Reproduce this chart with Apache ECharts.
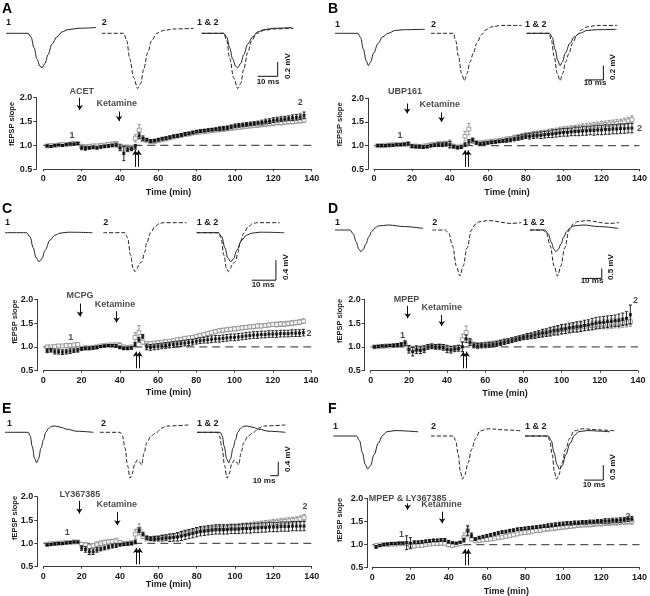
<!DOCTYPE html>
<html><head><meta charset="utf-8">
<script src="https://cdn.jsdelivr.net/npm/echarts@6/dist/echarts.min.js"></script>
<style>html,body{margin:0;padding:0;background:#fff}#c{width:650px;height:596px}</style>
</head><body><div id="c"></div>
<script>
// ---------- data ----------
const timesMin = [2,4,6,8,10,12,14,16,18,20,22,24,26,28,30,32,34,36,38,40,42,44,46,48,50,52,54,56,58,60,62,64,66,68,70,72,74,76,78,80,82,84,86,88,90,92,94,96,98,100,102,104,106,108,110,112,114,116,118,120,122,124,126,128,130,132,134,136];
const timeRange = [0, 140];
const baselineLevel = 1.0;

const aBlack = [0.99,0.98,1.0,1.01,1.0,1.02,1.03,1.03,1.04, 0.95,0.94,0.95,0.96,0.95, 0.97,0.98,0.99,1.0,1.01, 0.95,0.83,0.92,0.93, 0.97,1.2,1.15,1.12,1.09,1.1,1.12, 1.14,1.15,1.17,1.19,1.2,1.22,1.24,1.25,1.27,1.29, 1.3,1.31,1.32,1.33,1.34,1.35,1.36,1.37,1.39,1.41, 1.42,1.43,1.44,1.45,1.46,1.47,1.48,1.5,1.51,1.53, 1.54,1.55,1.56,1.57,1.58,1.59,1.6,1.63];
const aBlackErr = [0.02,0.02,0.01,0.01,0.02,0.01,0.02,0.02,0.02, 0.04,0.04,0.03,0.03,0.03, 0.03,0.03,0.03,0.03,0.04, 0.06,0.15,0.05,0.04, 0.05,0.06,0.05,0.03,0.03,0.03,0.03, 0.03,0.03,0.03,0.03,0.03,0.03,0.03,0.03,0.03,0.03, 0.03,0.03,0.03,0.03,0.03,0.04,0.04,0.04,0.04,0.04, 0.04,0.04,0.04,0.04,0.04,0.04,0.05,0.05,0.05,0.05, 0.05,0.05,0.05,0.05,0.06,0.06,0.06,0.07];
const aGray = [0.99,1.0,1.0,1.01,1.02,1.02,1.03,1.04,1.04, 0.98,0.97,0.98,0.99,0.99, 1.0,1.01,1.02,1.03,1.04, 0.98,0.92,0.95,0.96, 1.15,1.32,1.12,1.1,1.08,1.08,1.1, 1.12,1.14,1.16,1.18,1.2,1.21,1.23,1.24,1.26,1.27, 1.28,1.29,1.3,1.31,1.32,1.33,1.34,1.35,1.36,1.37, 1.38,1.39,1.4,1.41,1.42,1.43,1.44,1.45,1.46,1.47, 1.48,1.48,1.49,1.5,1.5,1.51,1.52,1.53];
const aGrayErr = [0.02,0.02,0.02,0.02,0.02,0.02,0.02,0.02,0.02, 0.03,0.03,0.03,0.03,0.03, 0.03,0.03,0.03,0.04,0.04, 0.05,0.08,0.05,0.04, 0.08,0.12,0.04,0.03,0.03,0.03,0.03, 0.03,0.03,0.03,0.03,0.03,0.03,0.03,0.03,0.03,0.03, 0.03,0.03,0.03,0.03,0.03,0.04,0.04,0.04,0.04,0.04, 0.04,0.04,0.04,0.04,0.04,0.05,0.05,0.05,0.05,0.05, 0.05,0.05,0.05,0.05,0.05,0.05,0.05,0.05];

const bBlack = [1.0,1.0,1.0,1.01,1.01,1.02,1.02,1.03,1.04, 0.99,0.98,0.98,0.97,0.98, 1.0,1.01,1.02,1.02,1.03, 1.02,0.98,0.96,0.97, 1.02,1.08,1.12,1.06,1.04,1.05,1.06, 1.07,1.08,1.09,1.1,1.11,1.12,1.14,1.16,1.18,1.2, 1.2,1.21,1.22,1.22,1.23,1.24,1.25,1.26,1.27,1.28, 1.28,1.29,1.3,1.3,1.31,1.31,1.32,1.32,1.33,1.33, 1.34,1.34,1.35,1.35,1.36,1.36,1.37,1.37];
const bBlackErr = [0.02,0.02,0.02,0.02,0.02,0.02,0.02,0.02,0.03, 0.03,0.03,0.03,0.03,0.03, 0.03,0.03,0.04,0.04,0.04, 0.07,0.03,0.03,0.03, 0.04,0.05,0.04,0.03,0.03,0.03,0.03, 0.03,0.03,0.03,0.03,0.04,0.04,0.04,0.05,0.05,0.05, 0.06,0.06,0.06,0.07,0.07,0.07,0.08,0.08,0.08,0.08, 0.08,0.08,0.09,0.09,0.09,0.09,0.09,0.1,0.1,0.1, 0.1,0.1,0.1,0.1,0.1,0.1,0.1,0.1];
const bGray = [1.0,1.0,1.01,1.01,1.02,1.02,1.03,1.03,1.04, 0.99,0.99,0.98,0.99,1.0, 1.02,1.03,1.04,1.04,1.05, 1.04,0.99,0.97,0.99, 1.2,1.35,1.1,1.06,1.06,1.07,1.08, 1.09,1.1,1.11,1.12,1.14,1.15,1.17,1.18,1.2,1.22, 1.23,1.24,1.25,1.26,1.27,1.28,1.29,1.3,1.32,1.33, 1.34,1.35,1.36,1.37,1.38,1.39,1.4,1.41,1.42,1.43, 1.44,1.45,1.46,1.47,1.48,1.5,1.52,1.55];
const bGrayErr = [0.02,0.02,0.02,0.02,0.02,0.02,0.02,0.02,0.03, 0.03,0.03,0.03,0.03,0.03, 0.03,0.03,0.03,0.04,0.04, 0.08,0.03,0.03,0.03, 0.1,0.12,0.05,0.03,0.03,0.03,0.03, 0.03,0.03,0.03,0.04,0.04,0.04,0.05,0.05,0.05,0.05, 0.05,0.06,0.06,0.06,0.06,0.07,0.07,0.07,0.07,0.07, 0.07,0.07,0.07,0.07,0.08,0.08,0.08,0.08,0.08,0.08, 0.08,0.08,0.08,0.08,0.08,0.08,0.08,0.08];

const cBlack = [0.92,0.93,0.9,0.9,0.89,0.9,0.91,0.92,0.93, 0.96,0.97,0.97,0.98,0.99, 1.01,1.02,1.03,1.03,1.02, 0.99,0.97,0.97,0.98, 1.05,1.15,1.22,1.0,0.99,1.0,1.01, 1.02,1.03,1.04,1.05,1.06,1.07,1.08,1.09,1.1,1.12, 1.13,1.14,1.15,1.16,1.17,1.17,1.18,1.19,1.2,1.2, 1.21,1.22,1.23,1.24,1.25,1.25,1.26,1.26,1.27,1.27, 1.27,1.28,1.28,1.28,1.29,1.29,1.29,1.3];
const cBlackErr = [0.04,0.04,0.05,0.05,0.05,0.05,0.05,0.04,0.04, 0.03,0.03,0.03,0.03,0.03, 0.02,0.02,0.02,0.02,0.03, 0.03,0.03,0.03,0.03, 0.04,0.05,0.04,0.06,0.06,0.06,0.06, 0.06,0.06,0.06,0.06,0.06,0.06,0.06,0.06,0.06,0.06, 0.06,0.06,0.07,0.07,0.07,0.07,0.07,0.07,0.07,0.07, 0.07,0.07,0.07,0.07,0.07,0.07,0.07,0.07,0.07,0.07, 0.07,0.07,0.07,0.07,0.07,0.07,0.07,0.07];
const cGray = [1.0,1.0,1.01,1.02,1.02,1.03,1.03,1.04,1.05, 0.97,0.98,0.98,0.99,1.0, 1.02,1.03,1.04,1.04,1.04, 1.03,1.0,0.99,1.0, 1.2,1.3,1.1,1.07,1.07,1.08,1.09, 1.1,1.11,1.12,1.13,1.15,1.16,1.18,1.19,1.2,1.22, 1.24,1.26,1.28,1.3,1.32,1.34,1.35,1.36,1.37,1.38, 1.39,1.4,1.41,1.42,1.43,1.44,1.44,1.45,1.46,1.47, 1.47,1.48,1.48,1.49,1.5,1.51,1.52,1.54];
const cGrayErr = [0.03,0.03,0.03,0.03,0.03,0.03,0.03,0.03,0.03, 0.02,0.02,0.02,0.02,0.02, 0.02,0.02,0.03,0.03,0.04, 0.06,0.03,0.03,0.03, 0.1,0.15,0.04,0.03,0.03,0.03,0.03, 0.03,0.03,0.03,0.03,0.03,0.03,0.03,0.03,0.03,0.03, 0.04,0.04,0.04,0.04,0.04,0.04,0.04,0.04,0.04,0.04, 0.04,0.04,0.04,0.04,0.04,0.04,0.04,0.04,0.04,0.04, 0.05,0.05,0.05,0.05,0.05,0.05,0.05,0.05];

const dBlack = [1.0,1.01,1.02,1.02,1.03,1.03,1.04,1.05,1.08, 0.95,0.9,0.94,0.93,0.95, 1.0,1.01,1.0,1.0,0.99, 0.95,0.94,0.96,0.97, 1.0,1.17,1.1,1.03,1.02,1.03,1.03, 1.04,1.05,1.06,1.08,1.1,1.12,1.14,1.16,1.18,1.2, 1.22,1.23,1.25,1.27,1.29,1.3,1.32,1.34,1.35,1.37, 1.38,1.4,1.41,1.42,1.43,1.45,1.46,1.48,1.5,1.51, 1.52,1.53,1.54,1.55,1.56,1.58,1.6,1.68];
const dBlackErr = [0.02,0.02,0.02,0.02,0.02,0.03,0.03,0.04,0.05, 0.08,0.09,0.08,0.07,0.07, 0.05,0.05,0.05,0.05,0.06, 0.07,0.07,0.06,0.06, 0.1,0.08,0.07,0.05,0.05,0.05,0.05, 0.05,0.05,0.05,0.05,0.05,0.05,0.05,0.05,0.05,0.05, 0.06,0.06,0.07,0.07,0.08,0.08,0.09,0.09,0.1,0.1, 0.1,0.1,0.1,0.11,0.11,0.11,0.11,0.12,0.12,0.12, 0.12,0.12,0.12,0.12,0.13,0.13,0.14,0.2];
const dGray = [1.0,1.01,1.01,1.02,1.02,1.03,1.03,1.04,1.06, 0.97,0.95,0.96,0.96,0.97, 1.01,1.02,1.01,1.02,1.0, 0.98,0.96,0.97,0.99, 1.15,1.3,1.12,1.05,1.04,1.04,1.05, 1.06,1.07,1.08,1.1,1.12,1.13,1.15,1.17,1.19,1.21, 1.22,1.24,1.25,1.26,1.28,1.3,1.31,1.33,1.35,1.36, 1.37,1.38,1.4,1.41,1.42,1.43,1.44,1.45,1.46,1.47, 1.48,1.48,1.49,1.5,1.5,1.51,1.52,1.53];
const dGrayErr = [0.02,0.02,0.02,0.02,0.02,0.03,0.03,0.03,0.04, 0.06,0.06,0.06,0.06,0.06, 0.04,0.04,0.04,0.04,0.05, 0.06,0.06,0.05,0.05, 0.12,0.14,0.06,0.05,0.05,0.05,0.05, 0.05,0.05,0.05,0.05,0.05,0.05,0.05,0.05,0.05,0.05, 0.06,0.06,0.06,0.07,0.07,0.07,0.08,0.08,0.08,0.08, 0.09,0.09,0.09,0.09,0.09,0.09,0.09,0.09,0.09,0.09, 0.1,0.1,0.1,0.1,0.1,0.1,0.1,0.1];

const eBlack = [0.97,0.98,0.99,1.0,1.0,1.01,1.02,1.03,1.03, 0.9,0.87,0.82,0.82,0.86, 0.88,0.9,0.92,0.94,0.95, 0.97,0.98,0.99,1.0, 1.03,1.28,1.2,1.12,1.1,1.1,1.1, 1.11,1.12,1.12,1.13,1.14,1.16,1.18,1.2,1.22,1.24, 1.26,1.27,1.28,1.29,1.3,1.3,1.3,1.3,1.31,1.31, 1.31,1.32,1.32,1.32,1.33,1.33,1.34,1.34,1.35,1.35, 1.35,1.36,1.36,1.36,1.37,1.37,1.37,1.37];
const eBlackErr = [0.02,0.02,0.02,0.02,0.02,0.02,0.02,0.02,0.02, 0.05,0.06,0.06,0.06,0.05, 0.04,0.04,0.04,0.04,0.04, 0.03,0.03,0.03,0.03, 0.04,0.05,0.04,0.04,0.04,0.05,0.05, 0.06,0.06,0.08,0.08,0.09,0.1,0.1,0.1,0.1,0.1, 0.1,0.1,0.1,0.1,0.1,0.1,0.1,0.1,0.1,0.1, 0.1,0.1,0.1,0.1,0.1,0.1,0.1,0.1,0.1,0.1, 0.1,0.1,0.1,0.1,0.1,0.1,0.1,0.1];
const eGray = [0.98,0.99,1.0,1.0,1.01,1.02,1.02,1.03,1.03, 0.98,0.97,0.93,0.95,0.98, 1.0,1.02,1.03,1.04,1.05, 1.02,1.0,1.0,1.01, 1.2,1.3,1.15,1.1,1.1,1.11,1.12, 1.13,1.14,1.15,1.16,1.17,1.19,1.21,1.23,1.25,1.27, 1.28,1.29,1.3,1.31,1.32,1.32,1.32,1.33,1.34,1.34, 1.35,1.36,1.37,1.38,1.39,1.4,1.41,1.42,1.43,1.44, 1.45,1.46,1.47,1.48,1.49,1.5,1.52,1.55];
const eGrayErr = [0.02,0.02,0.02,0.02,0.02,0.02,0.02,0.02,0.02, 0.04,0.05,0.05,0.05,0.05, 0.05,0.05,0.05,0.05,0.06, 0.04,0.04,0.04,0.04, 0.1,0.12,0.05,0.04,0.04,0.04,0.04, 0.05,0.05,0.05,0.05,0.06,0.06,0.06,0.06,0.06,0.06, 0.06,0.06,0.06,0.06,0.06,0.06,0.06,0.06,0.06,0.06, 0.07,0.07,0.07,0.07,0.07,0.07,0.07,0.07,0.07,0.07, 0.07,0.07,0.07,0.07,0.07,0.07,0.07,0.07];

const fBlack = [0.95,0.98,1.0,1.01,1.02,1.02,1.03,1.03,1.04, 1.03,1.05,1.05,1.06,1.07, 1.08,1.09,1.09,1.1,1.1, 1.06,1.04,1.03,1.05, 1.1,1.3,1.2,1.12,1.15,1.17,1.19, 1.21,1.23,1.25,1.27,1.28,1.3,1.31,1.33,1.34,1.35, 1.36,1.37,1.38,1.39,1.4,1.41,1.42,1.43,1.44,1.45, 1.46,1.46,1.47,1.47,1.48,1.48,1.49,1.49,1.5,1.5, 1.51,1.51,1.52,1.52,1.53,1.54,1.55,1.56];
const fBlackErr = [0.03,0.02,0.02,0.02,0.02,0.02,0.02,0.02,0.15, 0.12,0.03,0.03,0.03,0.03, 0.03,0.03,0.03,0.03,0.03, 0.03,0.02,0.02,0.02, 0.04,0.1,0.05,0.03,0.03,0.03,0.03, 0.03,0.03,0.03,0.03,0.03,0.03,0.03,0.03,0.03,0.03, 0.03,0.03,0.03,0.03,0.03,0.04,0.04,0.04,0.04,0.04, 0.04,0.04,0.04,0.04,0.04,0.04,0.04,0.04,0.04,0.04, 0.05,0.05,0.05,0.05,0.05,0.05,0.05,0.05];
const fGray = [0.98,0.99,1.0,1.0,1.01,1.01,1.02,1.02,1.02, 0.99,0.97,0.98,0.98,1.0, 1.01,1.02,1.02,1.03,1.02, 1.0,0.98,1.0,1.02, 1.15,1.3,1.12,1.08,1.09,1.1,1.11, 1.12,1.13,1.15,1.16,1.18,1.19,1.21,1.23,1.25,1.26, 1.27,1.29,1.3,1.31,1.33,1.34,1.35,1.36,1.37,1.38, 1.39,1.4,1.41,1.42,1.43,1.44,1.44,1.45,1.46,1.46, 1.47,1.47,1.48,1.48,1.49,1.49,1.5,1.5];
const fGrayErr = [0.02,0.02,0.02,0.02,0.02,0.02,0.02,0.02,0.04, 0.05,0.04,0.03,0.03,0.03, 0.03,0.03,0.03,0.03,0.03, 0.05,0.03,0.03,0.03, 0.1,0.12,0.04,0.03,0.03,0.03,0.03, 0.03,0.03,0.03,0.03,0.03,0.03,0.03,0.03,0.03,0.03, 0.04,0.04,0.04,0.04,0.05,0.05,0.05,0.05,0.05,0.05, 0.05,0.05,0.05,0.05,0.05,0.06,0.06,0.06,0.06,0.06, 0.06,0.06,0.06,0.06,0.06,0.06,0.06,0.06];

// sample traces: [ms, mV]
const aTrace1 = [[0,0],[11,0],[12.5,-0.05],[14,-0.2],[15.5,-0.36],[17,-0.46],[18,-0.48],[19.5,-0.42],[21,-0.3],[23,-0.15],[25.5,-0.05],[28,0.02],[31,0.05],[36,0.07],[45,0.08]];
const aTrace2 = [[0,0],[11,0],[12.5,-0.1],[14,-0.35],[16,-0.62],[18,-0.77],[19.5,-0.7],[21,-0.5],[23,-0.27],[25,-0.1],[27.5,0],[31,0.04],[36,0.06],[46,0.07]];
const bTrace1 = [[0,0],[12.5,0],[14,-0.06],[15.5,-0.22],[17,-0.38],[18.2,-0.45],[19.5,-0.4],[21,-0.28],[23.6,-0.14],[26,-0.05],[29,0],[33,0.04],[38,0.05],[49,0.056]];
const bTrace2 = [[0,0],[12.2,0],[13.5,-0.1],[15,-0.32],[16.7,-0.56],[18.2,-0.66],[19.7,-0.56],[21.3,-0.4],[23.1,-0.28],[25,-0.14],[27.6,-0.02],[30,0.05],[33,0.09],[38.5,0.11],[49.5,0.11]];
const cTrace1 = [[0,0],[8.9,0],[10.3,-0.08],[11.6,-0.3],[12.8,-0.5],[14,-0.58],[15.2,-0.52],[16.5,-0.35],[18.5,-0.15],[20.5,-0.05],[22.6,-0.01],[26,0.01],[36,0]];
const cTrace2 = [[0,0],[8.9,0],[10,-0.1],[11.2,-0.45],[12.3,-0.72],[13,-0.78],[13.8,-0.72],[14.8,-0.62],[15.9,-0.58],[17,-0.4],[17.8,-0.21],[19.5,0],[21.2,0.12],[23,0.18],[24.7,0.2],[34.2,0.2]];
const dTrace1 = [[0,0],[7.8,0],[9.5,-0.2],[11,-0.6],[12.3,-0.95],[13.4,-1.08],[14.6,-0.98],[16,-0.7],[17.5,-0.35],[19,-0.08],[20.7,0.1],[22.4,0.2],[27.6,0.25],[36,0.17],[45.7,0.08]];
const dTrace2 = [[0,0],[6.6,0],[8.5,-0.15],[10.5,-0.8],[12.5,-1.8],[14.3,-2.3],[16,-1.8],[18,-0.9],[20.3,0],[22.5,0.3],[24.7,0.42],[29,0.47],[41,0.33],[46.2,0.37]];
const eTrace1 = [[0,0],[29,0],[31.5,-0.1],[34,-0.4],[37,-0.75],[39.6,-0.87],[42,-0.75],[45,-0.45],[48,-0.22],[51,0],[54.2,0.11],[58,0.17],[62.5,0.18],[70,0.14],[77,0.09],[90,0.03],[110.5,0]];
const eTrace2 = [[0,0],[25,0],[28,-0.1],[31.3,-0.45],[34.5,-0.95],[37.5,-1.31],[40,-1.2],[43.5,-0.9],[46.7,-0.79],[49.5,-0.85],[52.1,-0.93],[55,-0.6],[58.4,-0.3],[64,-0.1],[70.8,0],[77,0.12],[83.3,0.18],[110.5,0.21]];
const fTrace1 = [[0,0],[12.3,0],[13.8,-0.15],[15.3,-0.55],[16.8,-0.95],[18.1,-1.1],[19.5,-1.0],[21.5,-0.62],[23.7,-0.24],[26,0.02],[28.1,0.14],[32.5,0.18],[44.7,0.14]];
const fTrace2 = [[0,0],[11.8,0],[13,-0.15],[14.3,-0.6],[15.5,-1.2],[16.5,-1.44],[17.8,-1.3],[19.5,-0.9],[21.4,-0.44],[23.5,-0.08],[25.8,0.17],[30.2,0.24],[40,0.2],[47.7,0.17]];

const scaleBarMs = 10;

// ---------- panel layout ----------
const panels = [
 {letter:'A', lx:2, ly:2, plot:[43.3,97.7,268.4,71.6], yOff:7,
  black:aBlack, blackErr:aBlackErr, gray:aGray, grayErr:aGrayErr,
  drug:'ACET', drugLab:[20,2.14], drugArr:[19,2.0,1.74], ketLab:[38.3,1.88], ketArr:[39.5,1.71,1.51], up:[48,49.7],
  lab1:[15,1.2], lab2:[134,1.9], yName:[12,124], tName:[168.5,193],
  tr1:aTrace1, tr2:aTrace2, trX:[6,101.7,201.7], baseY:33.3, pxMs:2.0, pxMv:71.7, span:60,
  barMv:0.2, barEnd:[38,-0.6], msTxt:[268,82], mvTxt:[288,66], labY:23, labX:[6,101.7,197]},
 {letter:'B', lx:328, ly:2, plot:[374,98.3,266,71], yOff:6,
  black:bBlack, blackErr:bBlackErr, gray:bGray, grayErr:bGrayErr,
  drug:'UBP161', drugLab:[16.3,2.14], drugArr:[17.5,1.89,1.68], ketLab:[34.7,1.87], ketArr:[35.6,1.7,1.5], up:[48,49.7],
  lab1:[13.7,1.22], lab2:[140,1.36], yName:[340,124.5], tName:[507,193],
  tr1:bTrace1, tr2:bTrace2, trX:[335,431,526.7], baseY:33.3, pxMs:1.83, pxMv:71.7, span:60,
  barMv:0.2, barEnd:[41.9,-0.65], msTxt:[595,83], mvTxt:[613,67], labY:25, labX:[335,431,525]},
 {letter:'C', lx:2, ly:202, plot:[43.3,299.3,267.7,71.4], yOff:6,
  black:cBlack, blackErr:cBlackErr, gray:cGray, grayErr:cGrayErr,
  drug:'MCPG', drugLab:[19.2,2.07], drugArr:[19.2,1.91,1.64], ketLab:[37.5,1.88], ketArr:[38.3,1.75,1.51], up:[48.5,50.3],
  lab1:[14.3,1.19], lab2:[139,1.28], yName:[15,321.7], tName:[168.5,393],
  tr1:cTrace1, tr2:cTrace2, trX:[5,103.3,196.7], baseY:232.7, pxMs:2.43, pxMv:50, span:50,
  barMv:0.4, barEnd:[32.6,-0.95], msTxt:[263,285], mvTxt:[286,267], labY:223, labX:[5,103.3,196.7]},
 {letter:'D', lx:328, ly:202, plot:[370.7,299.3,267.3,71.4], yOff:6,
  black:dBlack, blackErr:dBlackErr, gray:dGray, grayErr:dGrayErr,
  drug:'MPEP', drugLab:[18.8,2.0], drugArr:[19.4,1.86,1.6], ketLab:[37.2,1.83], ketArr:[37.2,1.67,1.44], up:[48.5,50.3],
  lab1:[16.6,1.23], lab2:[138.7,1.98], yName:[340,321], tName:[505,393.3],
  tr1:dTrace1, tr2:dTrace2, trX:[335,432.3,530], baseY:230, pxMs:1.93, pxMv:20, span:60,
  barMv:0.5, barEnd:[37.2,-2.42], msTxt:[592,281], mvTxt:[611,267], labY:223, labX:[335,432.3,523]},
 {letter:'E', lx:2, ly:402, plot:[43.3,496.7,268.4,70], yOff:6,
  black:eBlack, blackErr:eBlackErr, gray:eGray, grayErr:eGrayErr,
  drug:'LY367385', drugLab:[19.1,2.05], drugArr:[18.8,1.91,1.64], ketLab:[38.3,1.84], ketArr:[38.6,1.67,1.39], up:[48.5,50.3],
  lab1:[12.5,1.24], lab2:[136.5,1.8], yName:[15,518], tName:[168.5,585],
  tr1:eTrace1, tr2:eTrace2, trX:[5,100,197], baseY:432.3, pxMs:0.8, pxMv:35, span:120,
  barMv:0.4, barEnd:[101.6,-1.24], msTxt:[264,481], mvTxt:[288,459], labY:424, labX:[7,101,197]},
 {letter:'F', lx:328, ly:402, plot:[372.3,498.3,267.7,69.4], yOff:5,
  black:fBlack, blackErr:fBlackErr, gray:fGray, grayErr:fGrayErr,
  drug:'MPEP & LY367385', drugLab:[18.5,2.0], drugArr:[18.5,1.89,1.75], ketLab:[36.2,1.87], ketArr:[36.6,1.71,1.46], up:[48.5,50.3],
  lab1:[15.3,1.21], lab2:[134,1.6], yName:[340,520], tName:[506.3,591.7],
  tr1:fTrace1, tr2:fTrace2, trX:[333.3,431,525], baseY:436, pxMs:1.9, pxMv:30, span:60,
  barMv:0.5, barEnd:[41.2,-1.47], msTxt:[594,485], mvTxt:[613,467], labY:427, labX:[333,431,525]}
];

// ---------- build ----------
const F = '"Liberation Sans", Arial, sans-serif';
const TXT = '#1a1a1a', AX = '#3a3a3a', GRAY = '#8c8c8c';
const grids = [], xAxes = [], yAxes = [], series = [], graphics = [];
function addGrid(g, xa, ya) {
  grids.push(g);
  const i = grids.length - 1;
  xAxes.push(Object.assign({gridIndex: i}, xa));
  yAxes.push(Object.assign({gridIndex: i}, ya));
  return i;
}
function gText(text, x, y, size, opts) {
  graphics.push(Object.assign({type: 'text', x: x, y: y, silent: true,
    style: {text: text, fontFamily: F, fontWeight: 'bold', fontSize: size, fill: TXT,
      align: 'center', verticalAlign: 'middle', textAlign: 'center', textVerticalAlign: 'middle'}}, opts || {}));
}
function errSeries(gi, means, errs, color, z) {
  return {type: 'custom', xAxisIndex: gi, yAxisIndex: gi, z: z, silent: true, clip: false,
    data: timesMin.map((t, i) => [t, means[i], errs[i]]),
    encode: {x: 0, y: 1},
    renderItem: function (params, api) {
      const x = api.value(0), y = api.value(1), e = api.value(2);
      const a = api.coord([x, y + e]), b = api.coord([x, y - e]);
      const w = 1.6, st = {stroke: color, lineWidth: 0.9};
      return {type: 'group', children: [
        {type: 'line', shape: {x1: a[0], y1: a[1], x2: b[0], y2: b[1]}, style: st},
        {type: 'line', shape: {x1: a[0] - w, y1: a[1], x2: a[0] + w, y2: a[1]}, style: st},
        {type: 'line', shape: {x1: b[0] - w, y1: b[1], x2: b[0] + w, y2: b[1]}, style: st}
      ]};
    }};
}

panels.forEach(P => {
  gText(P.letter, P.lx, P.ly, 14, {style: {text: P.letter, fontFamily: F, fontWeight: 'bold', fontSize: 14, fill: '#000', align: 'left', verticalAlign: 'top', textAlign: 'left', textVerticalAlign: 'top'}});

  // time-course plot
  const gi = addGrid({left: P.plot[0], top: P.plot[1], width: P.plot[2], height: P.plot[3]},
    {type: 'value', min: timeRange[0], max: timeRange[1], interval: 20,
     axisLine: {show: true, onZero: false, lineStyle: {color: AX, width: 1}},
     axisTick: {show: true, length: 2, lineStyle: {color: AX}},
     axisLabel: {fontSize: 9, fontWeight: 'bold', color: TXT, margin: 5, fontFamily: F},
     splitLine: {show: false}},
    {type: 'value', min: 0.5, max: 2.0, interval: 0.5, offset: P.yOff,
     axisLine: {show: true, onZero: false, lineStyle: {color: AX, width: 1}},
     axisTick: {show: true, length: 3, lineStyle: {color: AX}},
     axisLabel: {fontSize: 9, fontWeight: 'bold', color: TXT, margin: 4, fontFamily: F, formatter: v => v.toFixed(1)},
     splitLine: {show: false}});

  series.push({type: 'line', xAxisIndex: gi, yAxisIndex: gi, z: 1, silent: true, symbol: 'none',
    data: [[timeRange[0], baselineLevel], [timeRange[1], baselineLevel]],
    lineStyle: {color: '#555', width: 1.2, type: [8, 5]}});
  series.push(errSeries(gi, P.gray, P.grayErr, GRAY, 2));
  series.push({type: 'scatter', xAxisIndex: gi, yAxisIndex: gi, z: 3, silent: true,
    data: timesMin.map((t, i) => [t, P.gray[i]]), symbol: 'rect', symbolSize: 4,
    itemStyle: {color: '#fff', borderColor: GRAY, borderWidth: 1}});
  series.push(errSeries(gi, P.black, P.blackErr, '#111', 4));
  series.push({type: 'scatter', xAxisIndex: gi, yAxisIndex: gi, z: 5, silent: true,
    data: timesMin.map((t, i) => [t, P.black[i]]), symbol: 'rect', symbolSize: 3,
    itemStyle: {color: '#000'}});
  // arrows
  series.push({type: 'lines', coordinateSystem: 'cartesian2d', xAxisIndex: gi, yAxisIndex: gi, z: 6, silent: true,
    symbol: ['none', 'arrow'], symbolSize: 5,
    lineStyle: {color: '#111', width: 1, opacity: 1},
    data: [
      {coords: [[P.drugArr[0], P.drugArr[1]], [P.drugArr[0], P.drugArr[2]]]},
      {coords: [[P.ketArr[0], P.ketArr[1]], [P.ketArr[0], P.ketArr[2]]]},
      {coords: [[P.up[0], 0.55], [P.up[0], 0.9]]},
      {coords: [[P.up[1], 0.55], [P.up[1], 0.9]]}
    ]});
  // text annotations in data space
  series.push({type: 'scatter', xAxisIndex: gi, yAxisIndex: gi, z: 7, silent: true, clip: false,
    symbolSize: 1, itemStyle: {color: 'rgba(0,0,0,0)'},
    label: {show: true, position: 'inside', formatter: '{b}', fontFamily: F, fontWeight: 'bold', fontSize: 9, color: TXT},
    data: [
      {name: P.drug, value: P.drugLab},
      {name: 'Ketamine', value: P.ketLab},
      {name: '1', value: P.lab1},
      {name: '2', value: P.lab2}
    ]});

  gText('fEPSP slope', P.yName[0], P.yName[1], 7.5, {rotation: Math.PI / 2});
  gText('Time (min)', P.tName[0], P.tName[1], 9);

  // traces
  const mk = (px) => addGrid({left: px, top: P.baseY - 0.4 * P.pxMv, width: P.span * P.pxMs, height: 3.0 * P.pxMv},
    {type: 'value', min: 0, max: P.span, show: false, splitLine: {show: false}},
    {type: 'value', min: -2.6, max: 0.4, show: false, splitLine: {show: false}});
  const solid = (g, d) => ({type: 'line', xAxisIndex: g, yAxisIndex: g, data: d, symbol: 'none', clip: false, silent: true,
    smooth: 0.35, smoothMonotone: 'x', lineStyle: {color: '#222', width: 1}});
  const dashed = (g, d) => ({type: 'line', xAxisIndex: g, yAxisIndex: g, data: d, symbol: 'none', clip: false, silent: true,
    smooth: 0.35, smoothMonotone: 'x', lineStyle: {color: '#222', width: 1, type: [4, 2]}});
  const g1 = mk(P.trX[0]), g2 = mk(P.trX[1]), g3 = mk(P.trX[2]);
  series.push(solid(g1, P.tr1));
  series.push(dashed(g2, P.tr2));
  series.push(solid(g3, P.tr1));
  series.push(dashed(g3, P.tr2));
  // scale bar through overlay axes
  const ex = P.barEnd[0], ey = P.barEnd[1];
  series.push({type: 'line', xAxisIndex: g3, yAxisIndex: g3, symbol: 'none', clip: false, silent: true,
    data: [[ex - scaleBarMs, ey], [ex, ey], [ex, ey + P.barMv]], lineStyle: {color: '#111', width: 1}});
  gText('10 ms', P.msTxt[0], P.msTxt[1], 8);
  gText(P.barMv.toFixed(1) + ' mV', P.mvTxt[0], P.mvTxt[1], 8, {rotation: Math.PI / 2});

  // trace labels
  const lab = (t, x) => graphics.push({type: 'text', x: x, y: P.labY, silent: true,
    style: {text: t, fontFamily: F, fontWeight: 'bold', fontSize: 9, fill: TXT, align: 'left', verticalAlign: 'middle', textAlign: 'left', textVerticalAlign: 'middle'}});
  lab('1', P.labX[0]); lab('2', P.labX[1]); lab('1 & 2', P.labX[2]);
});

const chart = echarts.init(document.getElementById('c'), null, {renderer: 'canvas'});
chart.setOption({animation: false, backgroundColor: '#fff', textStyle: {fontFamily: F},
  grid: grids, xAxis: xAxes, yAxis: yAxes, series: series, graphic: graphics});
</script>
</body></html>
